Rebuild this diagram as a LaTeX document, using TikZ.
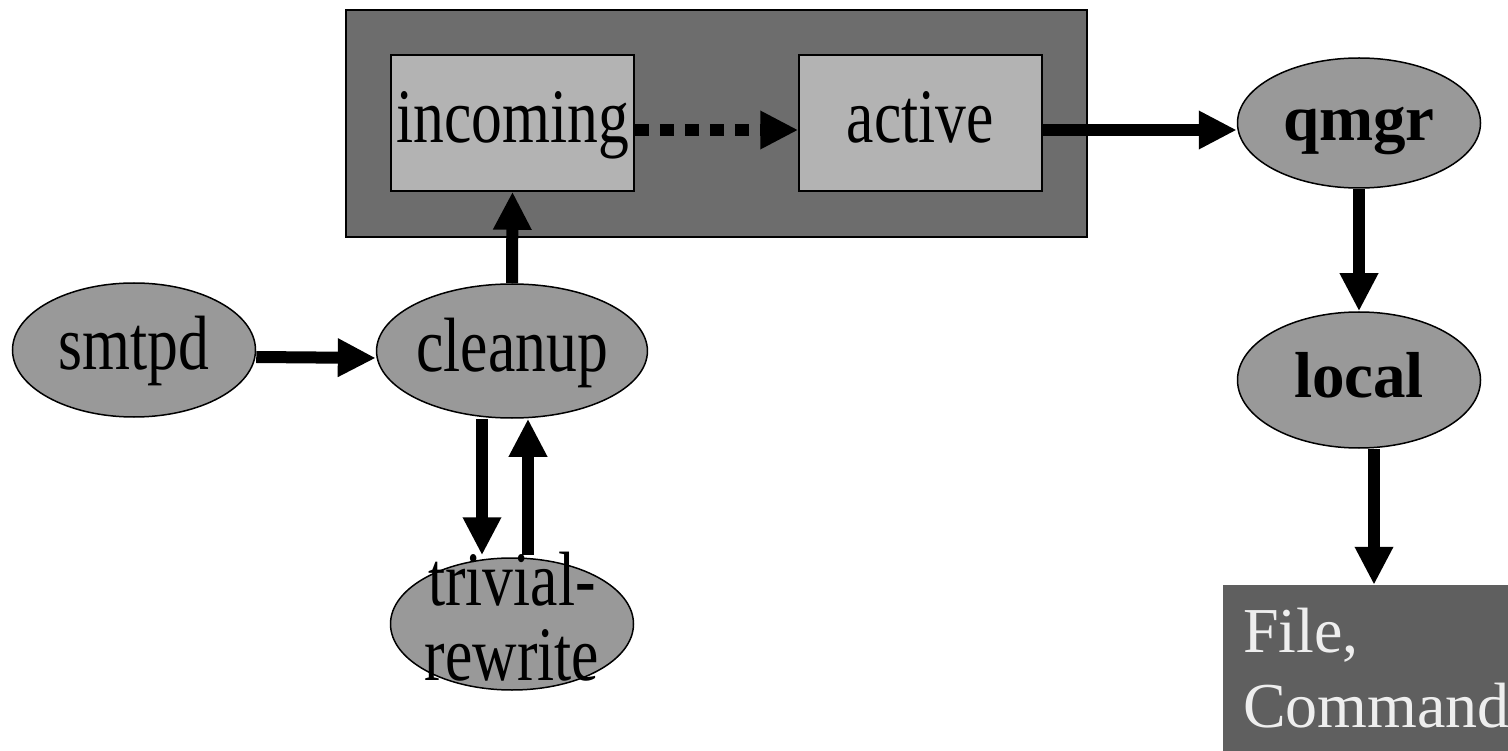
\documentclass[tikz,border=0pt]{standalone}
\usepackage{fontspec}
\setmainfont{Liberation Serif}
\newfontfamily\condfont[FakeStretch=0.8]{Liberation Serif}
\usetikzlibrary{shapes.geometric,arrows.meta}
\definecolor{outergray}{HTML}{6D6D6D}
\definecolor{qgray}{HTML}{B3B3B3}
\definecolor{ellgray}{HTML}{999999}
\definecolor{filegray}{HTML}{5F5F5F}
\definecolor{filetext}{HTML}{EEEEEE}
\begin{document}
\begin{tikzpicture}[x=1pt,y=-1pt,
  proc/.style={ellipse, draw=black, line width=1.5pt, fill=ellgray, minimum width=243pt, minimum height=134pt, inner sep=0pt},
  condtext/.style={font=\condfont\fontsize{77}{75}\selectfont, text height=56pt, text depth=16pt},
  boldtext/.style={font=\bfseries\fontsize{65}{70}\selectfont, text height=48pt, text depth=12pt},
  queuebox/.style={rectangle, draw=black, line width=1.5pt, fill=qgray, minimum width=243pt, minimum height=136pt, inner sep=0pt},
  bigarrow/.style={line width=12pt, -{Triangle[length=38pt,width=36pt]}},
]
\useasboundingbox (0,0) rectangle (1508,751);
\node (queues) [rectangle, draw=black, line width=1.5pt, fill=outergray, minimum width=741pt, minimum height=227pt, inner sep=0pt] at (716.5,123.5) {};
\node (incoming) [queuebox, condtext] at (512.5,123) {incoming};
\node (active) [queuebox, condtext] at (920.5,123) {active};
\node (qmgr) [proc, boldtext, minimum height=130pt] at (1359,123) {qmgr};
\node (local) [proc, boldtext, minimum height=136pt] at (1359,380) {local};
\node (smtpd) [proc, condtext] at (134,350) {smtpd};
\node (cleanup) [proc, condtext] at (512,351) {cleanup};
\node (trivial) [proc, minimum height=132pt] at (512,624) {};
\node (trivialA) [anchor=base, inner sep=0pt, font=\condfont\fontsize{77}{75}\selectfont] at (512,605) {trivial-};
\node (trivialB) [anchor=base, inner sep=0pt, font=\condfont\fontsize{77}{75}\selectfont] at (512,680) {rewrite};
\node (file) [rectangle, fill=filegray, minimum width=286pt, minimum height=167pt, inner sep=0pt] at (1366,668.5) {};
\node (filelabel) [anchor=base west, text=filetext, align=left, inner sep=0pt, font=\fontsize{64}{75}\selectfont] at (1243,727) {File,\\Command};
\draw[bigarrow, dash pattern=on 14pt off 11pt] (incoming.east |- 0,130) -- (active.west |- 0,130);
\draw[bigarrow] (active.east |- 0,130) -- (qmgr.west |- 0,130);
\draw[bigarrow] (qmgr) -- (local);
\draw[bigarrow] ([xshift=15pt]local.south) -- ([xshift=15pt]local.south |- file.north);
\draw[bigarrow] ([yshift=-7pt]smtpd.east) -- ([yshift=-7pt]cleanup.west);
\draw[bigarrow] (cleanup.north) -- (incoming.south);
\draw[bigarrow] ([xshift=-30pt]cleanup.south) -- ([xshift=-30pt,yshift=2pt]cleanup.south |- trivial.north);
\draw[bigarrow] ([xshift=16pt,yshift=2pt]trivial.north) -- ([xshift=16pt]trivial.north |- cleanup.south);
\end{tikzpicture}
\end{document}
